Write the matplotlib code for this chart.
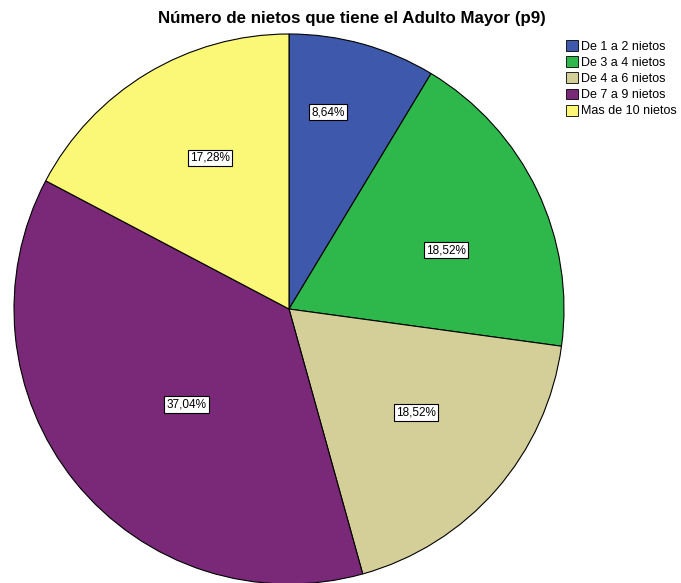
import numpy as np
import matplotlib
matplotlib.use("Agg")
import matplotlib.pyplot as plt
from matplotlib.patches import Patch

plt.rcParams['font.family'] = ['Liberation Sans', 'DejaVu Sans']

categories = ["De 1 a 2 nietos", "De 3 a 4 nietos", "De 4 a 6 nietos",
              "De 7 a 9 nietos", "Mas de 10 nietos"]
values = [8.64, 18.52, 18.52, 37.04, 17.28]
colors = ["#3e58ac", "#2eb84c", "#d4cf98", "#7a2878", "#fbf777"]
# label placement: distance from centre and angle nudge from the slice middle
label_dist = [0.73, 0.61, 0.595, 0.51, 0.62]
label_nudge = [4.3, -5.0, 2.0, 4.0, -3.5]

fig = plt.figure(figsize=(6.81, 5.83), dpi=100)
W, H = 681, 583
# pie area in pixels: centre (289, 309), radius 275
ax = fig.add_axes([14 / W, (H - 584) / H, 550 / W, 550 / H])
wedges, _ = ax.pie(values, colors=colors, startangle=90, counterclock=False,
                   radius=1, wedgeprops=dict(edgecolor="black", linewidth=0.8))
ax.set_xlim(-1, 1)
ax.set_ylim(-1, 1)
ax.set_aspect("equal")
ax.axis("off")

for w, v, d, n in zip(wedges, values, label_dist, label_nudge):
    ang = np.deg2rad((w.theta1 + w.theta2) / 2 + n)
    ax.text(d * np.cos(ang), d * np.sin(ang), f"{v:.2f}%".replace(".", ","),
            ha="center", va="center", fontsize=8.5,
            bbox=dict(boxstyle="square,pad=0.2", fc="white", ec="black", lw=0.8))

fig.text(352 / W, 1 - 18 / H, "Número de nietos que tiene el Adulto Mayor (p9)",
         ha="center", va="center", fontsize=12.2, fontweight="bold")

handles = [Patch(facecolor=c, edgecolor="black", linewidth=0.6) for c in colors]
fig.legend(handles, categories, loc="upper left", bbox_to_anchor=(566 / W, 1 - 40 / H),
           frameon=False, fontsize=9, handlelength=0.95, handleheight=0.95,
           handletextpad=0.25, labelspacing=0.28, borderpad=0, borderaxespad=0)

fig.savefig("out.png", dpi=100)
